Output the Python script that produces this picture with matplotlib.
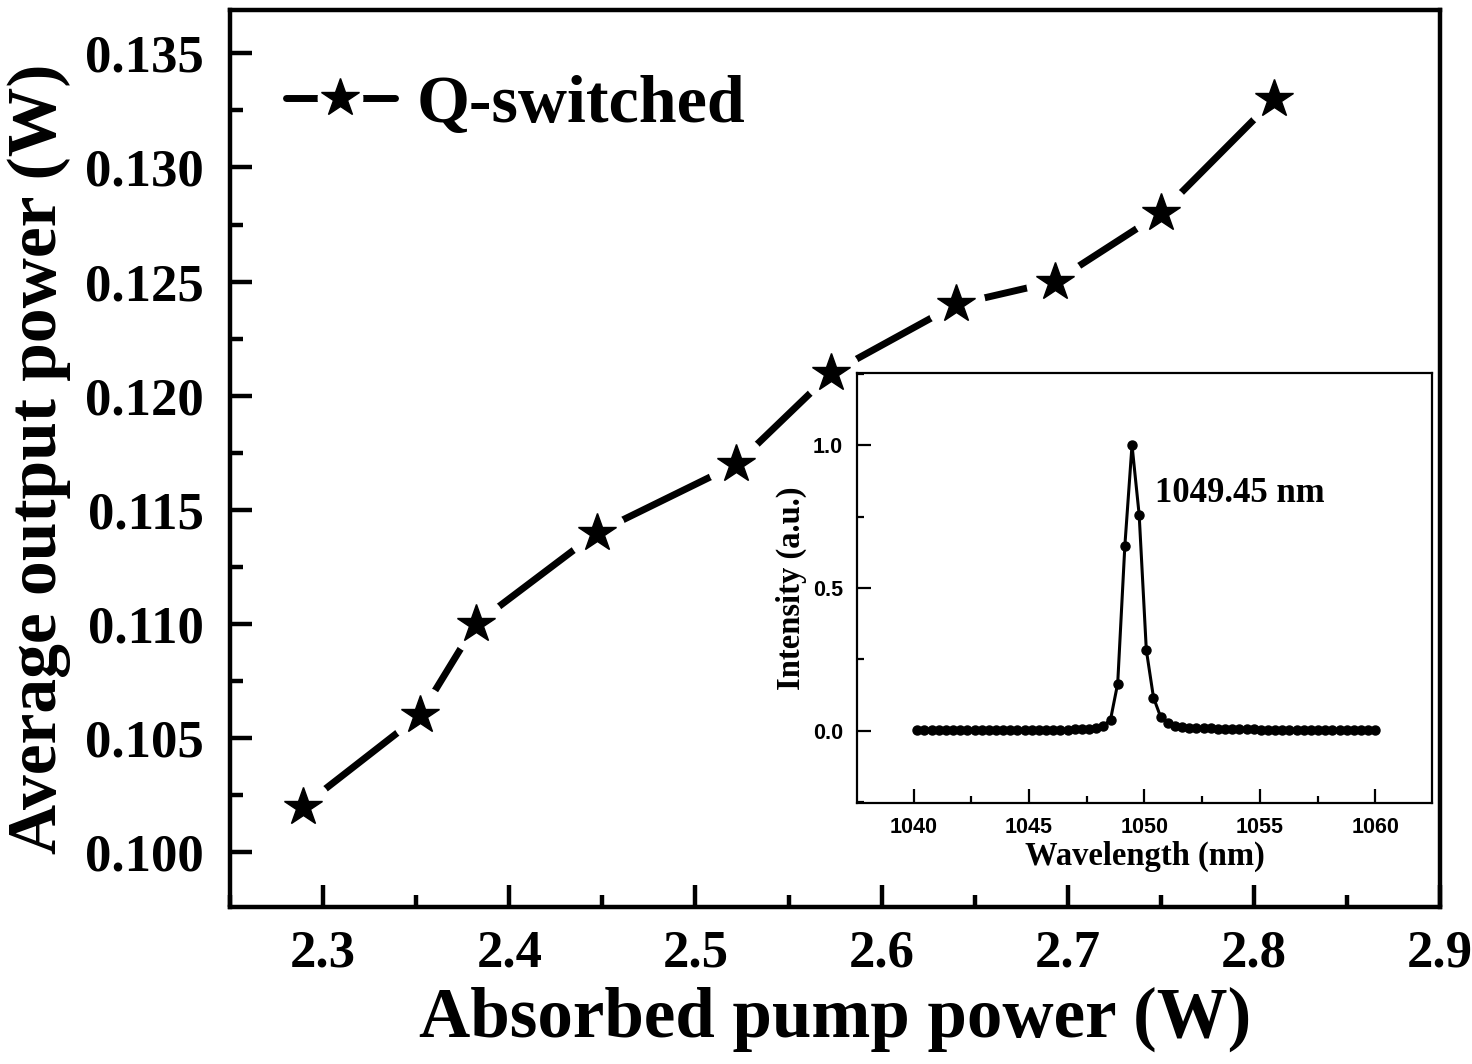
import matplotlib
matplotlib.use("Agg")
import matplotlib.pyplot as plt
from matplotlib.ticker import MultipleLocator, FormatStrFormatter
from matplotlib.lines import Line2D

# ---- main data ----
pump_power = [2.289, 2.352, 2.382, 2.447, 2.522, 2.573, 2.640, 2.693, 2.750, 2.811]
output_power = [0.102, 0.106, 0.110, 0.114, 0.117, 0.121, 0.124, 0.125, 0.128, 0.133]
series_label = "Q-switched"

# ---- inset spectrum ----
wavelength = [1040.16, 1040.47, 1040.78, 1041.09, 1041.40, 1041.71, 1042.02, 1042.33,
              1042.64, 1042.95, 1043.26, 1043.57, 1043.88, 1044.19, 1044.50, 1044.81,
              1045.12, 1045.43, 1045.74, 1046.05, 1046.36, 1046.67, 1046.98, 1047.29,
              1047.60, 1047.91, 1048.22, 1048.53, 1048.84, 1049.15, 1049.46, 1049.77,
              1050.08, 1050.39, 1050.70, 1051.01, 1051.32, 1051.63, 1051.94, 1052.25,
              1052.56, 1052.87, 1053.18, 1053.49, 1053.80, 1054.11, 1054.42, 1054.73,
              1055.04, 1055.35, 1055.66, 1055.97, 1056.28, 1056.59, 1056.90, 1057.21,
              1057.52, 1057.83, 1058.14, 1058.45, 1058.76, 1059.07, 1059.38, 1059.69,
              1060.00]
intensity = [0.002, 0.002, 0.003, 0.003, 0.002, 0.003, 0.003, 0.002,
             0.003, 0.003, 0.002, 0.003, 0.003, 0.003, 0.003, 0.003,
             0.004, 0.004, 0.004, 0.004, 0.005, 0.005, 0.006, 0.006,
             0.008, 0.012, 0.018, 0.040, 0.166, 0.648, 1.000, 0.756,
             0.283, 0.117, 0.049, 0.028, 0.019, 0.014, 0.012, 0.011,
             0.010, 0.009, 0.008, 0.008, 0.007, 0.007, 0.006, 0.006,
             0.005, 0.005, 0.005, 0.004, 0.004, 0.004, 0.004, 0.004,
             0.003, 0.003, 0.003, 0.003, 0.003, 0.003, 0.003, 0.003,
             0.003]
peak_label = "1049.45 nm"
peak_wl = 1049.45

SERIF = ["Liberation Serif", "DejaVu Serif"]
SANS = ["Liberation Sans", "DejaVu Sans"]

LW = 5.0
MS = 29
HALO = 41

fig = plt.figure(figsize=(14.72, 10.64), dpi=100)
ax = fig.add_axes([0.1563, 0.1476, 0.8220, 0.8430])

# line with gaps near markers
ax.plot(pump_power, output_power, color="black", lw=LW, solid_capstyle="round", zorder=2)
ax.plot(pump_power, output_power, ls="none", marker="o", ms=HALO, color="white",
        mec="white", zorder=3)
ax.plot(pump_power, output_power, ls="none", marker="*", ms=MS, color="black",
        mec="black", zorder=4)

# legend proxy (line + white halo + star)
h_line = Line2D([], [], color="black", lw=LW, solid_capstyle="round")
h_halo = Line2D([], [], ls="none", marker="o", ms=MS + 3, color="white", mec="white")
h_star = Line2D([], [], ls="none", marker="*", ms=MS, color="black", mec="black")
leg = ax.legend([(h_line, h_halo, h_star)], [series_label], loc="center left",
                frameon=False,
                prop={"family": SERIF, "weight": "bold", "size": 49},
                handlelength=1.6, handletextpad=0.33, borderaxespad=0.0,
                borderpad=0.0, bbox_to_anchor=(0.046, 0.894))

ax.set_xlim(2.25, 2.9)
ax.set_ylim(0.0976, 0.1369)
ax.xaxis.set_major_locator(MultipleLocator(0.1))
ax.xaxis.set_minor_locator(MultipleLocator(0.05))
ax.yaxis.set_major_locator(MultipleLocator(0.005))
ax.yaxis.set_minor_locator(MultipleLocator(0.0025))
ax.xaxis.set_major_formatter(FormatStrFormatter("%.1f"))
ax.yaxis.set_major_formatter(FormatStrFormatter("%.3f"))
ax.tick_params(which="major", direction="in", length=16, width=3.2,
               top=False, right=False, pad=16)
ax.tick_params(axis="y", which="major", pad=19)
ax.tick_params(which="minor", direction="in", length=9, width=3.2,
               top=False, right=False)
for lab in ax.get_xticklabels() + ax.get_yticklabels():
    lab.set_fontfamily(SERIF)
    lab.set_fontweight("bold")
    lab.set_fontsize(38)
for s in ax.spines.values():
    s.set_linewidth(3.2)

ax.set_xlabel("Absorbed pump power (W)", fontfamily=SERIF, fontweight="bold",
              fontsize=51, labelpad=7)
ax.set_ylabel("Average output power (W)", fontfamily=SERIF, fontweight="bold",
              fontsize=50, labelpad=10)

# ---- inset ----
ins = fig.add_axes([0.5822, 0.2453, 0.3906, 0.4041])
ins.plot(wavelength, intensity, color="black", lw=2.2, marker="o", ms=6.5,
         mfc="black", mec="black")
ins.set_xlim(1037.55, 1062.45)
ins.set_ylim(-0.252, 1.252)
ins.xaxis.set_major_locator(MultipleLocator(5))
ins.xaxis.set_minor_locator(MultipleLocator(2.5))
ins.yaxis.set_major_locator(MultipleLocator(0.5))
ins.yaxis.set_minor_locator(MultipleLocator(0.25))
ins.xaxis.set_major_formatter(FormatStrFormatter("%d"))
ins.yaxis.set_major_formatter(FormatStrFormatter("%.1f"))
ins.tick_params(which="major", direction="in", length=10, width=1.6,
                top=False, right=False, pad=10)
ins.tick_params(which="minor", direction="in", length=5, width=1.6,
                top=False, right=False)
for lab in ins.get_xticklabels() + ins.get_yticklabels():
    lab.set_fontfamily(SANS)
    lab.set_fontweight("bold")
    lab.set_fontsize(15.5)
for s in ins.spines.values():
    s.set_linewidth(1.6)
ins.set_xlabel("Wavelength (nm)", fontfamily=SERIF, fontweight="bold",
               fontsize=23.5, labelpad=2)
ins.set_ylabel("Intensity (a.u.)", fontfamily=SERIF, fontweight="bold",
               fontsize=23.5, labelpad=4)
ins.annotate(peak_label, xy=(peak_wl, 1.0), xytext=(1050.45, 0.83),
             textcoords="data", fontfamily=SERIF, fontweight="bold", fontsize=25,
             ha="left", va="center")

fig.savefig("out.png", dpi=100)
